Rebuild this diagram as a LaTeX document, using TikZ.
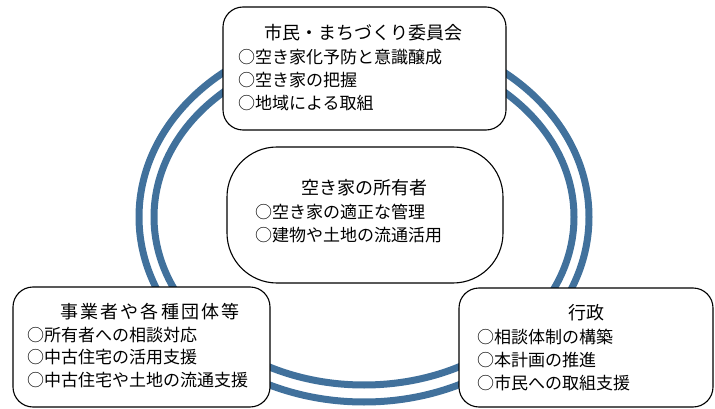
\documentclass[tikz,border=0pt]{standalone}
\usepackage{fontspec}
\setmainfont{Noto Sans CJK JP}
\definecolor{ringblue}{RGB}{65,113,156}
\begin{document}
\begin{tikzpicture}[x=1pt,y=-1pt,
  ring/.style={draw=ringblue,line width=7pt},
  box/.style={draw=black,line width=1.1pt,fill=white,rounded corners=20pt,inner sep=0pt},
  cbox/.style={draw=black,line width=1.1pt,fill=white,rounded corners=50pt,inner sep=0pt},
  ttl/.style={inner sep=0pt,anchor=base,font=\fontsize{18pt}{18pt}\selectfont},
  itm/.style={inner sep=0pt,anchor=base west,font=\fontsize{17pt}{17pt}\selectfont}]
\useasboundingbox (0,0) rectangle (715,409);
% ring
\draw[ring] (364,217) ellipse [x radius=225, y radius=185];
\draw[ring] (364,217) ellipse [x radius=210, y radius=168];
% boxes
\node[box,minimum width=283pt,minimum height=123pt] (top) at (364.5,68.5) {};
\node[cbox,minimum width=276pt,minimum height=136pt] (mid) at (365,215) {};
\node[box,minimum width=257pt,minimum height=120pt] (bl) at (141.5,347) {};
\node[box,minimum width=254pt,minimum height=119pt] (br) at (586,347.5) {};
% top
\node[ttl] (topt) at (363,39.5) {市民・まちづくり委員会};
\node[itm] (top1) at (238,63.5) {○空き家化予防と意識醸成};
\node[itm] (top2) at (238,86.5) {○空き家の把握};
\node[itm] (top3) at (238,109.5) {○地域による取組};
% middle
\node[ttl] (midt) at (364,194.5) {空き家の所有者};
\node[itm] (mid1) at (255,218.5) {○空き家の適正な管理};
\node[itm] (mid2) at (255,241.5) {○建物や土地の流通活用};
% bottom left
\node[ttl] (blt) at (150,318.5) {\addfontfeature{LetterSpace=12}事業者や各種団体等};
\node[itm] (bl1) at (27,341.5) {○所有者への相談対応};
\node[itm] (bl2) at (27,363.5) {○中古住宅の活用支援};
\node[itm] (bl3) at (27,386.5) {○中古住宅や土地の流通支援};
% bottom right
\node[ttl] (brt) at (586,319.5) {行政};
\node[itm] (br1) at (477,343.5) {○相談体制の構築};
\node[itm] (br2) at (477,366.5) {○本計画の推進};
\node[itm] (br3) at (477,389.5) {○市民への取組支援};
\end{tikzpicture}
\end{document}
